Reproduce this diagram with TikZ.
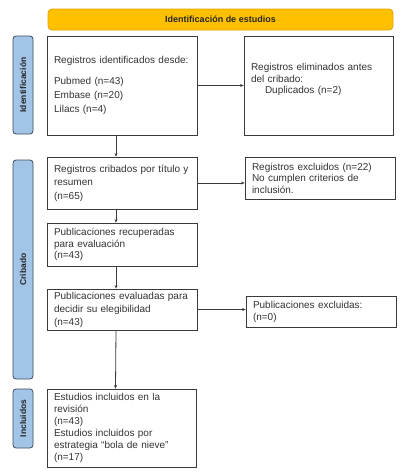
\documentclass[tikz,border=0pt]{standalone}
\usepackage{fontspec}
\setmainfont{Liberation Sans}
\usetikzlibrary{arrows.meta}
\definecolor{ybar}{HTML}{FFC000}
\definecolor{yline}{HTML}{E0A400}
\definecolor{sfill}{HTML}{A2C4E6}
\definecolor{sline}{HTML}{3C4C5C}
\definecolor{txt}{HTML}{333333}
\definecolor{bline}{HTML}{3A3A3A}
\begin{document}
\begin{tikzpicture}[x=1pt,y=-1pt,
  box/.style={draw=bline,line width=0.8pt,fill=white,inner xsep=7pt,inner ysep=0pt,
    align=left,text=txt,anchor=center},
  fs/.style={font=\fontsize{10}{#1}\selectfont},
  side/.style={draw=sline,fill=sfill,line width=0.8pt,rounded corners=3pt,rotate=90,
    font=\bfseries\fontsize{8.5}{10}\selectfont,text=black!85,inner sep=0pt,
    minimum height=20pt},
  arr/.style={draw=bline,line width=0.8pt,-{Stealth[length=3.5pt,width=3pt]}}]
\useasboundingbox (0,0) rectangle (407,474);

% header bar
\node[draw=yline,fill=ybar,line width=0.8pt,rounded corners=4pt,minimum width=345pt,
  minimum height=21pt,inner sep=0pt,font=\bfseries\fontsize{9}{11}\selectfont,text=black!85]
  (hdr) at (220.5,19.5) {Identificación de estudios};

% side labels
\node[side,minimum width=98pt] (s1) at (23,85) {Identificación};
\node[side,minimum width=219pt] (s2) at (23,269.5) {Cribado};
\node[side,minimum width=59pt] (s3) at (23,418.5) {Incluidos};

% boxes
\node[box,fs=14,minimum width=150pt,minimum height=99pt,text width=136pt] (b1) at (122,85.5)
  {Registros identificados desde:\\[7pt]Pubmed (n=43)\\Embase (n=20)\\Lilacs (n=4)};
\node[box,fs=11.5,minimum width=149pt,minimum height=99pt,text width=135pt] (b2) at (318.5,85.5)
  {Registros eliminados antes\\del cribado:\\\hspace*{14pt}Duplicados (n=2)\\[2pt]\mbox{}};
\node[box,fs=13.5,minimum width=150pt,minimum height=52pt,text width=136pt] (b3) at (122,183)
  {Registros cribados por título y\\resumen\\(n=65)};
\node[box,fs=11.5,minimum width=150pt,minimum height=42pt,text width=136pt] (b4) at (320,178)
  {Registros excluidos (n=22)\\No cumplen criterios de\\inclusión.};
\node[box,fs=11.7,minimum width=150pt,minimum height=43pt,text width=136pt] (b5) at (122,244.5)
  {Publicaciones recuperadas\\para evaluación\\(n=43)};
\node[box,fs=13,minimum width=150pt,minimum height=41pt,text width=136pt] (b6) at (122,309.5)
  {Publicaciones evaluadas para\\decidir su elegibilidad\\(n=43)};
\node[box,fs=12,minimum width=150pt,minimum height=31pt,text width=136pt] (b7) at (321,311.5)
  {Publicaciones excluidas:\\(n=0)};
\node[box,fs=12,minimum width=149pt,minimum height=78pt,text width=135pt] (b8) at (121.5,428)
  {Estudios incluidos en la\\revisión\\(n=43)\\Estudios incluidos por\\estrategia “bola de nieve”\\(n=17)};

% connectors
\draw[arr] ([xshift=-6pt]b1.south) -- ([xshift=-6pt]b3.north);
\draw[arr] (b1.east) -- (b2.west);
\draw[arr] (b3.east) -- (b3.east -| b4.west);
\draw[arr] ([xshift=-6pt]b3.south) -- ([xshift=-6pt]b5.north);
\draw[arr] ([xshift=-6pt]b5.south) -- ([xshift=-6pt]b6.north);
\draw[arr] (b6.east) -- (b6.east -| b7.west);
\draw[arr] ([xshift=-6pt]b6.south) -- ([xshift=-6pt]b8.north);
\end{tikzpicture}
\end{document}
